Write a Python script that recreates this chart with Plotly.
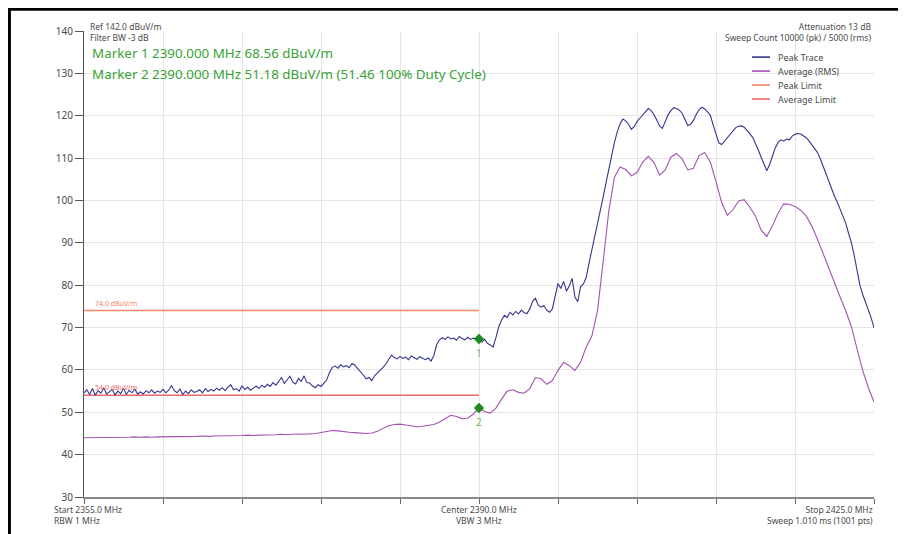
import numpy as np
import plotly.graph_objects as go

# ---------------- data ----------------
f_start, f_stop, f_center = 2355.0, 2425.0, 2390.0

# Peak trace, sampled every 0.25 MHz from 2355 to 2425
peak_freq = np.linspace(f_start, f_stop, 281)
peak_vals = [
    54.6, 55.3, 54.2, 55.6, 54.0, 55.1, 54.5, 55.8, 54.3, 54.9, 55.4, 54.1, 55.0, 54.4, 55.7, 54.2, 55.2, 54.6, 55.5, 54.3,
    54.8, 54.3, 55.1, 54.6, 55.3, 54.5, 55.0, 54.7, 55.4, 54.6, 55.2, 56.3, 55.1, 54.6, 55.5, 54.2, 55.0, 54.4, 55.3, 54.7,
    54.9, 55.3, 54.6, 55.6, 54.9, 55.4, 55.0, 55.7, 55.2, 55.8, 55.1, 55.9, 56.5, 55.3, 55.6, 55.0, 56.2, 55.4, 55.9, 55.2,
    55.7, 56.2, 55.6, 56.4, 55.9, 56.6, 56.1, 57.0, 56.4, 57.4, 58.2, 56.8, 57.6, 58.5, 57.1, 56.7, 58.0, 57.3, 58.6, 57.0,
    56.9, 56.2, 55.8, 56.5, 56.1, 56.8, 57.6, 59.4, 60.6, 60.9, 60.4, 61.2, 60.7, 61.0, 60.5, 61.5, 61.1, 60.3, 59.6, 58.8,
    57.9, 58.2, 57.5, 58.6, 59.3, 59.9, 60.6, 61.4, 62.5, 63.5, 62.9, 62.6, 63.2, 62.7, 63.0, 62.4, 63.3, 62.8, 62.5, 63.1,
    62.7, 62.4, 62.8, 62.1, 63.4, 66.0, 67.1, 67.6, 67.2, 67.8, 67.3, 67.5, 67.0, 67.9, 67.4, 67.1, 67.7, 67.2, 67.5, 67.3,
    67.3, 66.6, 67.2, 66.3, 65.9, 65.4, 67.6, 70.2, 71.8, 72.9, 72.4, 73.6, 73.0, 73.8, 73.2, 74.1, 73.5, 73.3, 74.4, 76.2,
    76.9, 75.3, 74.8, 75.2, 74.1, 73.6, 74.4, 77.5, 80.4, 79.2, 80.9, 78.6, 79.8, 81.6, 77.2, 76.1, 79.6, 80.3, 81.8, 85.2,
    88.2, 91.5, 94.8, 97.6, 100.8, 104.1, 107.5, 110.6, 113.7, 116.2, 118.1, 119.2, 118.8, 118.0, 116.8, 117.4, 118.6, 119.4, 120.1, 121.0,
    121.7, 121.2, 120.3, 119.0, 117.6, 117.0, 118.5, 120.2, 121.2, 121.9, 121.7, 121.3, 120.6, 119.1, 117.7, 118.0, 118.9, 120.3, 121.4, 122.0,
    121.6, 120.9, 120.1, 117.8, 115.8, 113.6, 113.2, 114.0, 114.9, 115.8, 116.6, 117.2, 117.5, 117.6, 117.3, 116.6, 115.7, 114.9, 113.5, 111.9,
    110.2, 108.4, 107.0, 108.5, 110.6, 112.4, 113.7, 114.3, 114.0, 114.5, 114.3, 115.2, 115.6, 115.8, 115.7, 115.2, 114.8, 114.0, 113.1, 112.2,
    111.3, 109.8, 108.0, 106.3, 104.2, 102.6, 101.0, 99.6, 98.0, 96.5, 94.6, 92.2, 90.0, 87.0, 83.5, 80.0, 77.8, 75.9, 74.3, 72.3,
    69.9,
]

# Average (RMS) trace, sampled every 0.5 MHz from 2355 to 2425
avg_freq = np.linspace(f_start, f_stop, 141)
avg_vals = [
    44.0, 44.0, 44.1, 44.0, 44.1, 44.1, 44.0, 44.1, 44.1, 44.2,
    44.1, 44.2, 44.1, 44.2, 44.2, 44.2, 44.3, 44.2, 44.3, 44.3,
    44.3, 44.4, 44.3, 44.4, 44.4, 44.5, 44.4, 44.5, 44.5, 44.6,
    44.5, 44.6, 44.6, 44.7, 44.7, 44.8, 44.7, 44.8, 44.8, 44.9,
    44.9, 45.0, 45.2, 45.5, 45.7, 45.6, 45.4, 45.3, 45.2, 45.1,
    45.0, 45.1, 45.5, 46.2, 46.8, 47.1, 47.2, 47.0, 46.8, 46.6,
    46.7, 46.9, 47.1, 47.7, 48.6, 49.3, 49.0, 48.5, 48.6, 49.6,
    51.0, 50.2, 49.8, 51.0, 53.1, 55.0, 55.3, 54.7, 54.5, 55.6,
    58.2, 57.9, 56.6, 57.5, 59.9, 61.8, 61.0, 59.9, 61.8, 65.4,
    68.0, 74.0, 85.5, 97.5, 105.5, 107.9, 107.3, 105.8, 106.6, 109.0,
    110.4, 109.0, 106.0, 107.2, 110.2, 111.1, 109.8, 107.2, 107.6, 110.6,
    111.3, 109.0, 104.5, 99.5, 96.5, 97.8, 99.9, 100.2, 98.4, 96.3,
    93.0, 91.5, 94.0, 97.0, 99.2, 99.1, 98.6, 97.7, 96.3, 93.9,
    90.8, 87.3, 84.1, 80.6, 77.2, 73.9, 70.2, 64.9, 59.9, 55.8,
    52.4,
]

peak_limit = 74.0
avg_limit = 54.0
limit_freq = [f_start, f_center]

marker_freq = [2390.0, 2390.0]
marker_plot_vals = [67.3, 51.0]
marker_names = ["1", "2"]
marker_texts = [
    "Marker 1 2390.000 MHz 68.56 dBuV/m",
    "Marker 2 2390.000 MHz 51.18 dBuV/m (51.46 100% Duty Cycle)",
]

legend_names = ["Peak Trace", "Average (RMS)", "Peak Limit", "Average Limit"]
y_ticks = [30, 40, 50, 60, 70, 80, 90, 100, 110, 120, 130, 140]

# ---------------- styles ----------------
C_PEAK = "#35358f"
C_AVG = "#a452b4"
C_PLIM = "#f4876a"
C_ALIM = "#ec6a6a"
C_MARK = "#1d8a1d"
C_MTXT = "#38a238"
C_MLBL = "#6cb86c"
C_TXT = "#4a4a4a"
FONT = "Noto Sans"

fig = go.Figure()
fig.add_trace(go.Scatter(x=limit_freq, y=[peak_limit, peak_limit], mode="lines",
                         line=dict(color=C_PLIM, width=1.5), name=legend_names[2], hoverinfo="skip"))
fig.add_trace(go.Scatter(x=limit_freq, y=[avg_limit, avg_limit], mode="lines",
                         line=dict(color=C_ALIM, width=1.5), name=legend_names[3], hoverinfo="skip"))
fig.add_trace(go.Scatter(x=avg_freq, y=avg_vals, mode="lines",
                         line=dict(color=C_AVG, width=1.1), name=legend_names[1]))
fig.add_trace(go.Scatter(x=peak_freq, y=peak_vals, mode="lines",
                         line=dict(color=C_PEAK, width=1.1), name=legend_names[0]))
fig.add_trace(go.Scatter(x=marker_freq, y=marker_plot_vals, mode="markers",
                         marker=dict(symbol="diamond", size=8, color=C_MARK),
                         name="markers"))
for mf, mv, mn in zip(marker_freq, marker_plot_vals, marker_names):
    fig.add_annotation(x=mf, y=mv, text=mn, showarrow=False, yshift=-14,
                       font=dict(size=10, color=C_MLBL, family=FONT))

# limit labels
fig.add_annotation(x=f_start + 0.8, y=peak_limit, text="74.0 dBuV/m", showarrow=False,
                   xanchor="left", yanchor="bottom", yshift=1,
                   font=dict(size=7, color=C_PLIM, family=FONT))
fig.add_annotation(x=f_start + 0.8, y=avg_limit, text="54.0 dBuV/m", showarrow=False,
                   xanchor="left", yanchor="bottom", yshift=1,
                   font=dict(size=7, color=C_ALIM, family=FONT))

# header texts
fig.add_annotation(x=0.005, y=0.997, xref="paper", yref="paper",
                   text="Ref 142.0 dBuV/m<br>Filter BW -3 dB", align="left",
                   showarrow=False, xanchor="left", yanchor="middle", font=dict(size=8.5, color=C_TXT, family=FONT))
fig.add_annotation(x=0.999, y=0.997, xref="paper", yref="paper",
                   text="Attenuation 13 dB<br>Sweep Count 10000 (pk) / 5000 (rms)", align="right",
                   showarrow=False, xanchor="right", yanchor="middle", font=dict(size=8.5, color=C_TXT, family=FONT))
for t, yp in zip(marker_texts, [0.953, 0.908]):
    fig.add_annotation(x=0.008, y=yp, xref="paper", yref="paper", text=t, showarrow=False,
                       xanchor="left", yanchor="middle", font=dict(size=13.4, color=C_MTXT, family=FONT))

# custom legend
leg_colors = [C_PEAK, C_AVG, C_PLIM, C_ALIM]
for i, (nm, col) in enumerate(zip(legend_names, leg_colors)):
    yp = 0.944 - i * 0.030
    fig.add_shape(type="line", xref="paper", yref="paper", x0=0.8456, x1=0.8684, y0=yp, y1=yp,
                  line=dict(color=col, width=1.6))
    fig.add_annotation(x=0.876, y=yp, xref="paper", yref="paper", text=nm, showarrow=False,
                       xanchor="left", yanchor="middle", font=dict(size=9, color=C_TXT, family=FONT))

# x-axis labels
fig.add_annotation(x=-0.041, y=-0.011, xref="paper", yref="paper", text="Start 2355.0 MHz<br>RBW 1 MHz",
                   showarrow=False, xanchor="left", yanchor="top", align="left",
                   font=dict(size=8.5, color=C_TXT, family=FONT))
fig.add_annotation(x=0.5, y=-0.011, xref="paper", yref="paper", text="Center 2390.0 MHz<br>VBW 3 MHz",
                   showarrow=False, xanchor="center", yanchor="top", align="center",
                   font=dict(size=8.5, color=C_TXT, family=FONT))
fig.add_annotation(x=1.001, y=-0.011, xref="paper", yref="paper", text="Stop 2425.0 MHz<br>Sweep 1.010 ms (1001 pts)",
                   showarrow=False, xanchor="right", yanchor="top", align="right",
                   font=dict(size=8.5, color=C_TXT, family=FONT))

# black frame (top and left edge of the screenshot)
fig.add_shape(type="line", xref="paper", yref="paper", x0=-0.0975, x1=1.05, y0=1.0465, y1=1.0465,
              line=dict(color="black", width=3))
fig.add_shape(type="line", xref="paper", yref="paper", x0=-0.0944, x1=-0.0944, y0=1.05, y1=-0.08,
              line=dict(color="black", width=3))

# page body has an 8px margin: the figure is sized so the plot area lands on the reference's pixels
fig.update_layout(
    width=898, height=526,
    margin=dict(l=76, r=32, t=23, b=37),
    paper_bgcolor="white", plot_bgcolor="white",
    showlegend=False,
    font=dict(family=FONT, color=C_TXT),
    xaxis=dict(range=[f_start, f_stop], tickmode="array",
               tickvals=list(np.linspace(f_start, f_stop, 11)),
               showticklabels=False, ticks="outside", ticklen=5, tickcolor="#666",
               showgrid=True, gridcolor="#e5e5e5", gridwidth=1,
               showline=True, linecolor="#888", linewidth=2, zeroline=False),
    yaxis=dict(range=[30, 140], tickmode="array", tickvals=y_ticks,
               ticks="outside", ticklen=8, tickcolor="#555",
               tickfont=dict(size=10, color=C_TXT, family=FONT),
               showgrid=True, gridcolor="#e5e5e5", gridwidth=1,
               showline=True, linecolor="#555", linewidth=1, zeroline=False),
)

fig.write_html("out.html")
